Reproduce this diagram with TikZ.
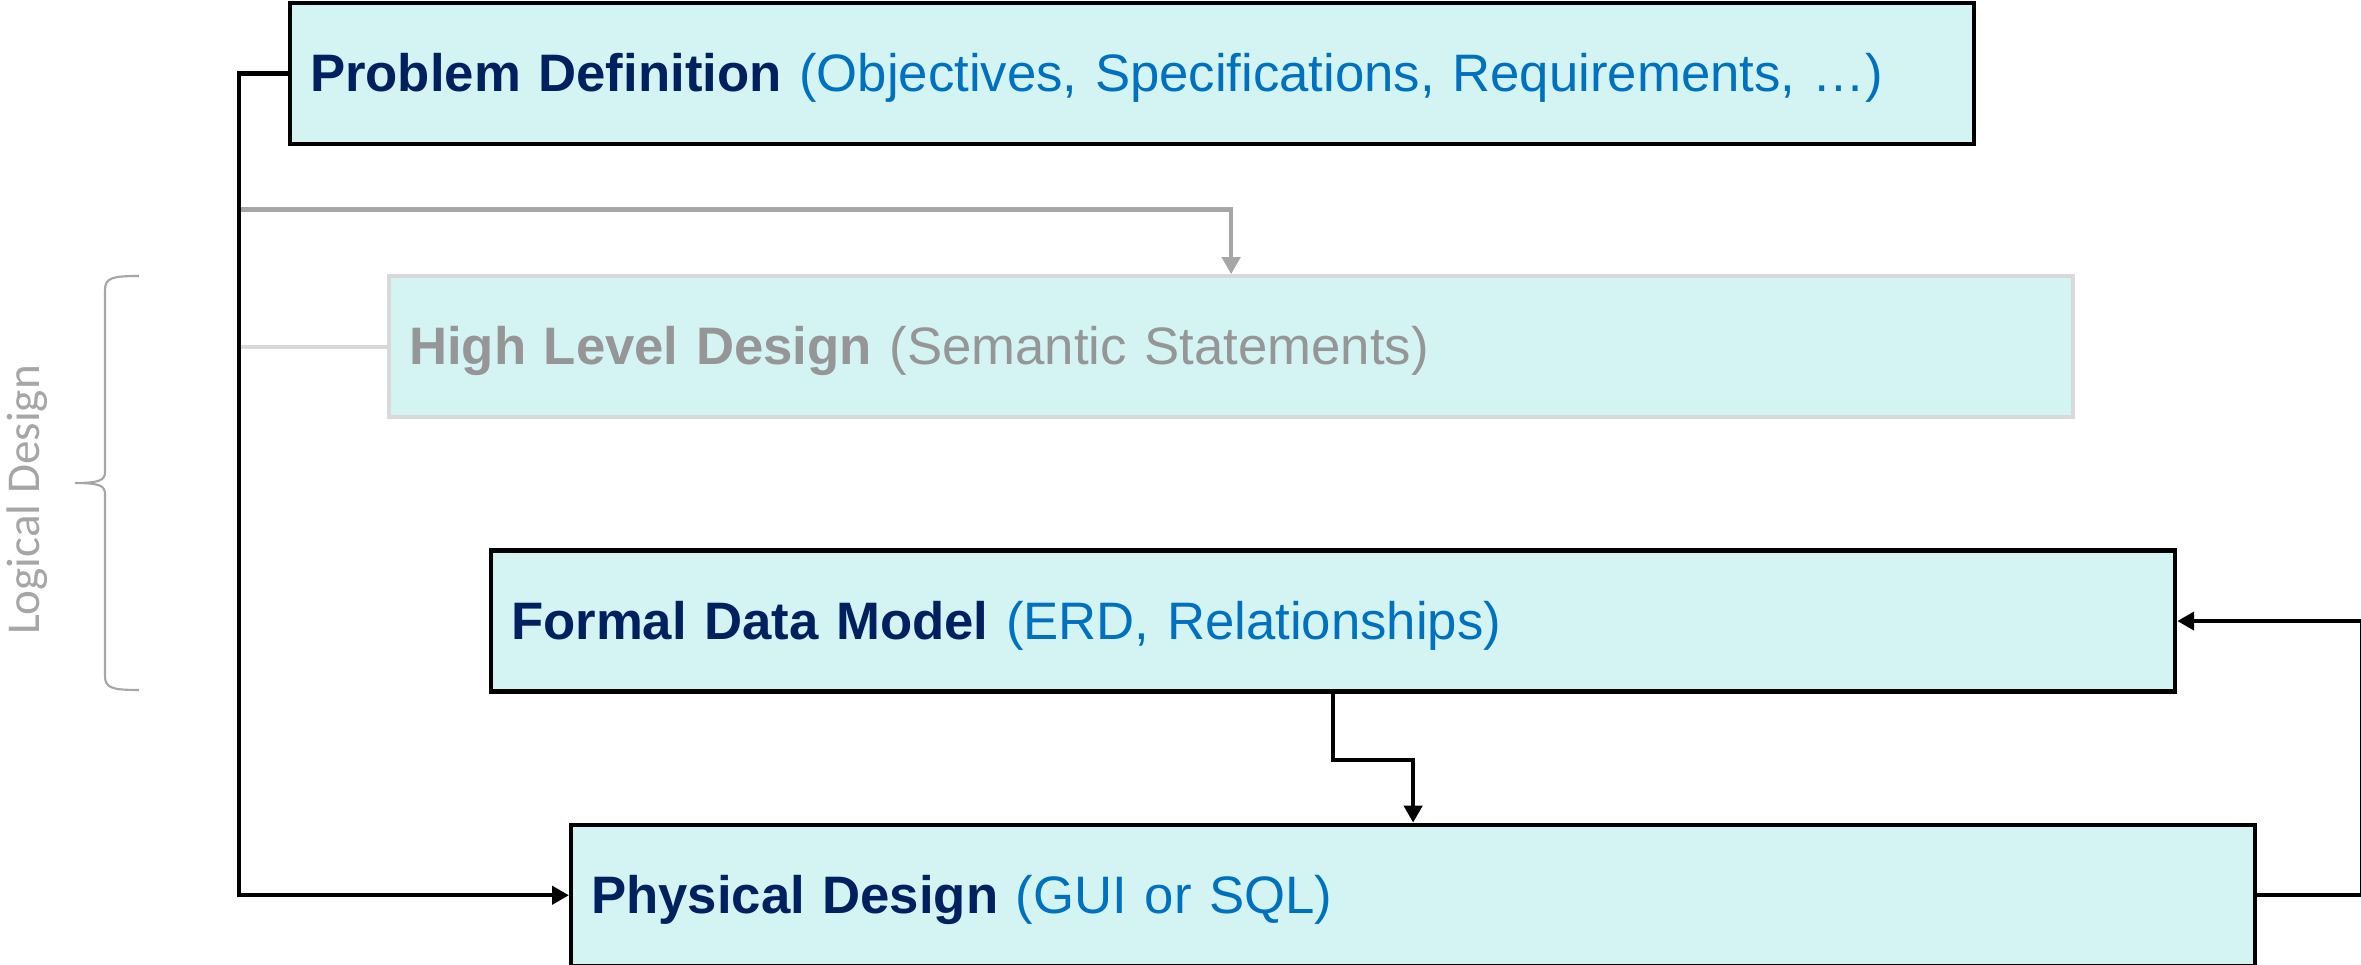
\documentclass[tikz,border=0pt]{standalone}
\usepackage{fontspec}
\setmainfont{Liberation Sans}
\newfontfamily\sidefont{Carlito}
\usetikzlibrary{arrows.meta,positioning}
\definecolor{boxfill}{RGB}{211,244,243}
\definecolor{navy}{RGB}{0,32,96}
\definecolor{midblue}{RGB}{0,112,192}
\definecolor{dimtext}{RGB}{150,150,150}
\definecolor{dimline}{RGB}{166,166,166}
\definecolor{paleline}{RGB}{217,217,217}
\newcommand{\detail}[1]{{\color{midblue}#1}}

\begin{document}
\begin{tikzpicture}[>={Triangle[length=0.17cm,width=0.18cm]},
  stage/.style={draw, line width=1.2pt, fill=boxfill, text=navy,
    minimum height=1.41cm, text width=16.44cm, inner xsep=0.2cm, align=left,
    text height=0.47cm, text depth=0.11cm,
    font=\fontsize{15}{18}\selectfont},
  dimstage/.style={stage, draw=paleline, text=dimtext},
  flow/.style={->, line width=1.2pt},
  grayflow/.style={->, line width=1.2pt, draw=dimline},
  faintline/.style={line width=1.2pt, draw=paleline}]
  \useasboundingbox (0,0) rectangle (23.61,-9.65);

  \node[stage, anchor=north west] (pd) at (2.88,-0.01)
    {\textbf{Problem Definition} \detail{(Objectives, Specifications, Requirements, …)}};
  \node[dimstage, below right=1.28cm and 0.99cm of pd.south west] (hld)
    {\textbf{High Level Design} (Semantic Statements)};
  \node[stage, below right=1.29cm and 1.02cm of hld.south west] (fdm)
    {\textbf{Formal Data Model} \detail{(ERD, Relationships)}};
  \node[stage, below right=1.29cm and 0.80cm of fdm.south west] (phys)
    {\textbf{Physical Design} \detail{(GUI or SQL)}};

  % side label with brace
  \node[rotate=90, text=dimline, font=\sidefont\fontsize{13.4}{16}\selectfont] (logic) at (0.27,-5.00) {Logical Design};
  \draw[dimline, line width=0.6pt]
    (1.39,-2.76) .. controls (1.12,-2.76) and (1.05,-2.78) .. (1.05,-2.90)
    -- (1.05,-4.72) .. controls (1.05,-4.80) and (1.00,-4.83) .. (0.75,-4.83)
    .. controls (1.00,-4.83) and (1.05,-4.86) .. (1.05,-4.94)
    -- (1.05,-6.76) .. controls (1.05,-6.88) and (1.12,-6.90) .. (1.39,-6.90);

  \coordinate[left=0.49cm of pd.west] (spine);
  \coordinate[below=1.36cm of spine] (tap);

  \draw[faintline] (hld.west) -- (spine |- hld.west);
  \draw[grayflow] (tap) -| (hld.north);
  \draw[flow] (pd.west) -- (spine) |- (phys.west);
  \draw[flow] (fdm.south) -- ++(0,-0.66) -| (phys.north);
  \draw[flow] (phys.east) -- ++(1.05,0) |- (fdm.east);
\end{tikzpicture}
\end{document}
